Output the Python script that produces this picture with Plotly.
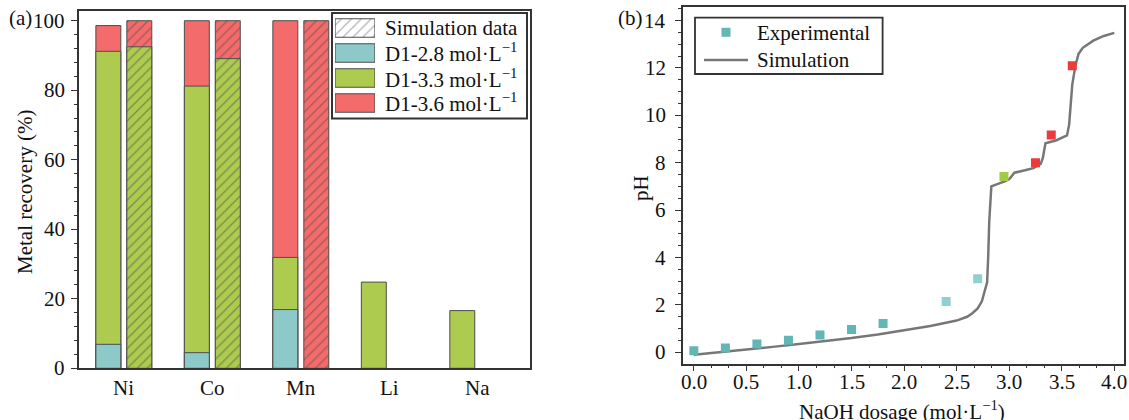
import plotly.graph_objects as go

W, H = 1129, 420
def px(x): return x / W
def py(y): return 1 - y / H

FONT = "Liberation Serif"
TEAL, GREEN, RED = "#8cc9c8", "#adcb4e", "#f46b6b"
EDGE = "#4d4d4d"

# ---------- data (a) ----------
categories = ["Ni", "Co", "Mn", "Li", "Na"]
exp_d28 = [6.9, 4.5, 16.9, None, None]
exp_d33 = [91.2, 81.2, 31.9, 24.8, 16.6]
exp_d36 = [98.6, 100.0, 100.0, None, None]
sim_d33 = [92.5, 89.1, None, None, None]
sim_d36 = [100.0, 100.0, 100.0, None, None]
yticks_a = [0, 20, 40, 60, 80, 100]

legend_a = ["Simulation data", "D1-2.8 mol·L<sup>−1</sup>",
            "D1-3.3 mol·L<sup>−1</sup>", "D1-3.6 mol·L<sup>−1</sup>"]

# ---------- data (b) ----------
naoh_exp = [0.0, 0.3, 0.6, 0.9, 1.2, 1.5, 1.8, 2.4, 2.7, 2.95, 3.25, 3.4, 3.6]
ph_exp = [0.07, 0.18, 0.35, 0.51, 0.73, 0.96, 1.22, 2.15, 3.1, 7.42, 8.0, 9.17, 12.09]
exp_colors = ["#62b6b6"] * 7 + ["#8fd0d0"] * 2 + ["#a2cc45"] + ["#ec3b3b"] * 3

naoh_sim = [0.0, 0.25, 0.5, 0.75, 1.0, 1.25, 1.5, 1.75, 2.0, 2.25, 2.5, 2.6, 2.65,
            2.7, 2.74, 2.77, 2.79, 2.80, 2.81, 2.83, 2.9, 2.95, 3.0, 3.05, 3.15,
            3.23, 3.3, 3.32, 3.345, 3.45, 3.55, 3.57, 3.6, 3.63, 3.66, 3.7, 3.8,
            3.9, 4.0]
ph_sim = [-0.1, 0.0, 0.11, 0.23, 0.35, 0.47, 0.6, 0.75, 0.92, 1.11, 1.34, 1.5, 1.65,
          1.85, 2.15, 2.6, 2.95, 4.0, 5.5, 7.0, 7.1, 7.2, 7.3, 7.58, 7.68,
          7.77, 7.95, 8.2, 8.82, 8.95, 9.15, 9.6, 11.3, 12.1, 12.6, 12.85, 13.15,
          13.35, 13.48]
xticks_b = [0, 0.5, 1, 1.5, 2, 2.5, 3, 3.5, 4]
xticktext_b = ["0.0", "0.5", "1.0", "1.5", "2.0", "2.5", "3.0", "3.5", "4.0"]
yticks_b = [0, 2, 4, 6, 8, 10, 12, 14]

fig = go.Figure()

BW = 0.282
OFF_E, OFF_S = -0.316, 0.034
pat = dict(shape="/", fgcolor="#4a4a4a", size=7, solidity=0.18)

def bar(vals, color, off, pattern=None):
    m = dict(color=color, line=dict(color=EDGE, width=1))
    if pattern:
        m["pattern"] = dict(pattern, bgcolor=color)
    fig.add_trace(go.Bar(x=categories, y=vals, width=BW, offset=off, marker=m,
                         showlegend=False, xaxis="x", yaxis="y"))

bar(exp_d36, RED, OFF_E)
bar(exp_d33, GREEN, OFF_E)
bar(exp_d28, TEAL, OFF_E)
bar(sim_d36, RED, OFF_S, pat)
bar(sim_d33, GREEN, OFF_S, pat)

# legend swatches for (a), drawn as bars on a hidden axis
fig.add_trace(go.Bar(
    y=[0, 1, 2, 3], x=[1, 1, 1, 1], orientation="h", width=0.74,
    marker=dict(color=["white", TEAL, GREEN, RED], line=dict(color=EDGE, width=1.2),
                pattern=dict(shape=["/", "", "", ""], fgcolor="#8a8a8a", size=7, solidity=0.15)),
    showlegend=False, xaxis="x3", yaxis="y3", hoverinfo="skip"))

# (b)
fig.add_trace(go.Scatter(x=naoh_sim, y=ph_sim, mode="lines",
                         line=dict(color="#777777", width=2.5),
                         showlegend=False, xaxis="x2", yaxis="y2"))
fig.add_trace(go.Scatter(x=naoh_exp, y=ph_exp, mode="markers",
                         marker=dict(symbol="square", size=9, color=exp_colors),
                         showlegend=False, xaxis="x2", yaxis="y2"))

axline = dict(showline=True, linecolor="#333", linewidth=1.5, mirror=True,
              showgrid=False, zeroline=False, showticklabels=False)
tk = dict(ticks="outside", ticklen=6, tickcolor="#333", tickwidth=1.3)

fig.update_layout(
    width=W, height=H, margin=dict(l=0, r=0, t=0, b=0),
    paper_bgcolor="white", plot_bgcolor="white",
    barmode="overlay", font=dict(family=FONT, size=21, color="#111"),
    xaxis=dict(domain=[px(78.7), px(530)], type="category", range=[-0.51, 4.59],
               ticks="", **axline),
    yaxis=dict(domain=[py(368.3), py(11)], range=[0, 102.8], tickvals=yticks_a, **tk,
               minor=dict(dtick=4, ticks="outside", ticklen=3, tickcolor="#333", tickwidth=1),
               **axline),
    xaxis2=dict(domain=[px(682.7), px(1124.3)], range=[-0.106, 4.095], anchor="y2",
                tickvals=xticks_b, **tk,
                minor=dict(dtick=0.5 / 3, ticks="outside", ticklen=3, tickcolor="#333", tickwidth=1),
                **axline),
    yaxis2=dict(domain=[py(363.7), py(7.3)], range=[-0.48, 14.56], anchor="x2",
                tickvals=yticks_b, **tk,
                minor=dict(dtick=0.5, ticks="outside", ticklen=3, tickcolor="#333", tickwidth=1),
                **axline),
    xaxis3=dict(domain=[px(335), px(375)], range=[0, 1], visible=False, anchor="y3", fixedrange=True),
    yaxis3=dict(domain=[py(115.5), py(15.5)], range=[3.5, -0.5], visible=False, anchor="x3", fixedrange=True),
)

shapes = [
    dict(type="rect", xref="paper", yref="paper", x0=px(332), x1=px(527), y0=py(13), y1=py(118.5),
         line=dict(color="#333", width=2), fillcolor="rgba(0,0,0,0)", layer="above"),
    dict(type="rect", xref="paper", yref="paper", x0=px(695), x1=px(882.6), y0=py(17.7), y1=py(74),
         line=dict(color="#333", width=1.8), fillcolor="white", layer="below"),
    dict(type="rect", xref="paper", yref="paper", x0=px(721.5), x1=px(730.5), y0=py(27.8), y1=py(36.8),
         line=dict(width=0), fillcolor="#62b6b6"),
    dict(type="line", xref="paper", yref="paper", x0=px(704), x1=px(748), y0=py(60), y1=py(60),
         line=dict(color="#777777", width=2.5)),
]
fig.update_layout(shapes=shapes)

F = dict(family=FONT, size=21, color="#111")
ann = []
rows = [28.3, 52.8, 78.0, 102.5]
for t, r in zip(legend_a, rows):
    ann.append(dict(text=t, x=px(383), y=py(r), xref="paper", yref="paper",
                    xanchor="left", yanchor="middle"))
ann += [
    dict(text="Experimental", x=px(755), y=py(33), xref="paper", yref="paper", xanchor="left", yanchor="middle"),
    dict(text="Simulation", x=px(755), y=py(60), xref="paper", yref="paper", xanchor="left", yanchor="middle"),
    dict(text="Metal recovery (%)", x=px(25), y=py(192), xref="paper", yref="paper", textangle=-90,
         xanchor="center", yanchor="middle"),
    dict(text="pH", x=px(641), y=py(188), xref="paper", yref="paper", textangle=-90,
         xanchor="center", yanchor="middle"),
    dict(text="NaOH dosage (mol·L<sup>−1</sup>)", x=px(902), y=py(410), xref="paper", yref="paper",
         xanchor="center", yanchor="middle"),
    dict(text="(a)", x=px(7), y=py(18), xref="paper", yref="paper", xanchor="left", yanchor="middle"),
    dict(text="(b)", x=px(616), y=py(18), xref="paper", yref="paper", xanchor="left", yanchor="middle"),
]
# tick labels, positioned by the axes
for c in categories:
    ann.append(dict(text=c, x=c, xref="x", y=py(388), yref="paper", xanchor="center", yanchor="middle"))
for v in yticks_a:
    ann.append(dict(text=str(v), x=px(67), xref="paper", y=v, yref="y", xanchor="right", yanchor="middle"))
for v, t in zip(xticks_b, xticktext_b):
    ann.append(dict(text=t, x=v, xref="x2", y=py(381.5), yref="paper", xanchor="center", yanchor="middle"))
for v in yticks_b:
    ann.append(dict(text=str(v), x=px(667.5), xref="paper", y=v, yref="y2", xanchor="right", yanchor="middle"))
for a in ann:
    a.update(showarrow=False, font=F)
fig.update_layout(annotations=ann)

fig.write_html("out.html")
